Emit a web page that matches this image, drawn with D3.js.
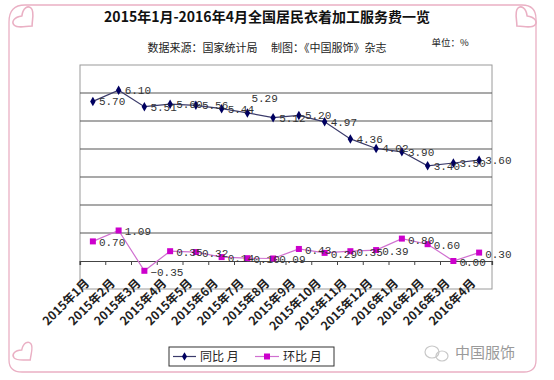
<!DOCTYPE html>
<html><head><meta charset="utf-8">
<script src="https://cdn.jsdelivr.net/npm/d3@7/dist/d3.min.js"></script>
<style>
html,body{margin:0;padding:0;background:#fff;}
svg{display:block;}
</style></head>
<body><svg id="c" width="554" height="380"></svg>
<script>
const categories = ["2015年1月","2015年2月","2015年3月","2015年4月","2015年5月","2015年6月","2015年7月","2015年8月","2015年9月","2015年10月","2015年11月","2015年12月","2016年1月","2016年2月","2016年3月","2016年4月"];
const yoy = [5.70,6.10,5.51,5.60,5.56,5.44,5.29,5.12,5.20,4.97,4.36,4.02,3.90,3.40,3.50,3.60];
const mom = [0.70,1.09,-0.35,0.35,0.32,0.14,0.10,0.09,0.43,0.29,0.35,0.39,0.80,0.60,0.00,0.30];
const yTicks = [-1,0,1,2,3,4,5,6,7];
const seriesNames = ["同比 月","环比 月"];
const titleText = "2015年1月-2016年4月全国居民衣着加工服务费一览";
const subtitleText = "数据来源：国家统计局　 制图：《中国服饰》杂志";
const unitText = "单位：%";

const svg = d3.select("#c");
const CJK = "'Noto Sans CJK SC','Noto Sans',sans-serif";
const MONO = "'Liberation Mono','DejaVu Sans Mono',monospace";
const pink = "#eab0c4";

// decorative frame
const frame = svg.append("g").attr("fill","none").attr("stroke",pink).attr("stroke-width",1.3);
frame.append("path").attr("d","M25,5 L522,5 Q536,5 536,19 L536,360 Q536,372 524,372 L22,372 Q9,372 9,360 L9,22 Q9,5 25,5");
function heart(cx,cy,s,rot){
  frame.append("path")
    .attr("transform",`translate(${cx},${cy}) rotate(${rot}) scale(${s})`)
    .attr("d","M0,6 C-4,2 -10,-1 -10,-5 C-10,-9 -5,-10 0,-6 C5,-10 10,-9 10,-5 C10,-1 4,2 0,6 Z");
}
heart(27,21,1.2,-45);
heart(522,21,1.2,45);
heart(26,355,1.1,-40);

// titles
svg.append("text").attr("x",267).attr("y",22).attr("text-anchor","middle")
  .attr("font-family",CJK).attr("font-weight",700).attr("font-size",14).attr("fill","#111").text(titleText);
svg.append("text").attr("x",267).attr("y",52).attr("text-anchor","middle")
  .attr("font-family",CJK).attr("font-size",11).attr("fill","#222").text(subtitleText);
svg.append("text").attr("x",450).attr("y",46).attr("text-anchor","middle")
  .attr("font-family",CJK).attr("font-size",9.5).attr("fill","#222").text(unitText);

// plot
const L=80,R=492,T=65,B=289;
const x = d3.scaleBand().domain(categories).range([L,R]);
const y = d3.scaleLinear().domain([d3.min(yTicks),d3.max(yTicks)]).range([B,T]);
const cx = d => x(d)+x.bandwidth()/2;

svg.append("rect").attr("x",L).attr("y",T).attr("width",R-L).attr("height",B-T)
  .attr("fill","#fff").attr("stroke","#9a9a9a").attr("stroke-width",1);

svg.append("g").selectAll("line").data(yTicks.filter(v=>v>0 && v<d3.max(yTicks))).join("line")
  .attr("x1",L).attr("x2",R).attr("y1",d=>y(d)).attr("y2",d=>y(d))
  .attr("stroke","#555").attr("stroke-width",1.2);

// category axis at 0
const xAxis = d3.axisBottom(x).tickSize(4).tickFormat("");
const gx = svg.append("g").attr("transform",`translate(0,${y(0)})`).call(xAxis);
gx.select(".domain").attr("stroke","#444").attr("stroke-width",1.2);
gx.selectAll(".tick").attr("transform",d=>`translate(${x(d)},0)`);
gx.selectAll(".tick line").attr("stroke","#444");
gx.append("line").attr("x1",R).attr("x2",R).attr("y1",0).attr("y2",4).attr("stroke","#444");

svg.append("g").selectAll("text").data(categories).join("text")
  .attr("transform",d=>`translate(${cx(d)-3},${y(0)+23}) rotate(-45)`)
  .attr("text-anchor","end").attr("font-family",CJK).attr("font-weight",700)
  .attr("font-size",12).attr("fill","#222").text(d=>d);

// lines
const line = d3.line().x((d,i)=>cx(categories[i])).y(d=>y(d));
svg.append("path").datum(yoy).attr("d",line).attr("fill","none").attr("stroke","#3a3a6a").attr("stroke-width",1.2);
svg.append("path").datum(mom).attr("d",line).attr("fill","none").attr("stroke","#d070d0").attr("stroke-width",1.2);

svg.append("g").selectAll("path").data(yoy).join("path")
  .attr("d",d3.symbol(d3.symbolDiamond,26)).attr("fill","#000060")
  .attr("transform",(d,i)=>`translate(${cx(categories[i])},${y(d)})`);
svg.append("g").selectAll("rect").data(mom).join("rect")
  .attr("x",(d,i)=>cx(categories[i])-3).attr("y",d=>y(d)-3).attr("width",6).attr("height",6)
  .attr("fill","#cc00cc");

// data labels
const fmt = d3.format(".2f");
svg.append("g").selectAll("text").data(yoy).join("text")
  .attr("x",(d,i)=>cx(categories[i])+ (i===6?4:6))
  .attr("y",(d,i)=>y(d)+ (i===6?-11:4))
  .attr("font-family",MONO).attr("font-size",11).attr("fill","#333").text(d=>fmt(d));
svg.append("g").selectAll("text").data(mom).join("text")
  .attr("x",(d,i)=>cx(categories[i])+6).attr("y",d=>y(d)+5)
  .attr("font-family",MONO).attr("font-size",11).attr("fill","#333").text(d=>fmt(d));

// legend
const lg = svg.append("g");
lg.append("rect").attr("x",169).attr("y",347).attr("width",165).attr("height",19)
  .attr("fill","#fff").attr("stroke","#333").attr("stroke-width",1);
lg.append("line").attr("x1",173).attr("x2",196).attr("y1",356.5).attr("y2",356.5).attr("stroke","#3a3a6a").attr("stroke-width",1.2);
lg.append("path").attr("d",d3.symbol(d3.symbolDiamond,22)).attr("fill","#000060").attr("transform","translate(184.5,356.5)");
lg.append("text").attr("x",200).attr("y",361).attr("font-family",CJK).attr("font-size",12).attr("fill","#222").text(seriesNames[0]);
lg.append("line").attr("x1",255).attr("x2",279).attr("y1",356.5).attr("y2",356.5).attr("stroke","#d070d0").attr("stroke-width",1.2);
lg.append("rect").attr("x",264).attr("y",353.5).attr("width",6).attr("height",6).attr("fill","#cc00cc");
lg.append("text").attr("x",283).attr("y",361).attr("font-family",CJK).attr("font-size",12).attr("fill","#222").text(seriesNames[1]);

// watermark
const wm = svg.append("g").attr("fill","none").attr("stroke","#c8c8c8").attr("stroke-width",1.2);
wm.append("ellipse").attr("cx",432).attr("cy",352).attr("rx",7).attr("ry",6);
wm.append("ellipse").attr("cx",442).attr("cy",356).attr("rx",6).attr("ry",5);
svg.append("text").attr("x",455).attr("y",358).attr("font-family",CJK).attr("font-size",15)
  .attr("fill","#9a9a9a").text("中国服饰");
</script></body></html>
